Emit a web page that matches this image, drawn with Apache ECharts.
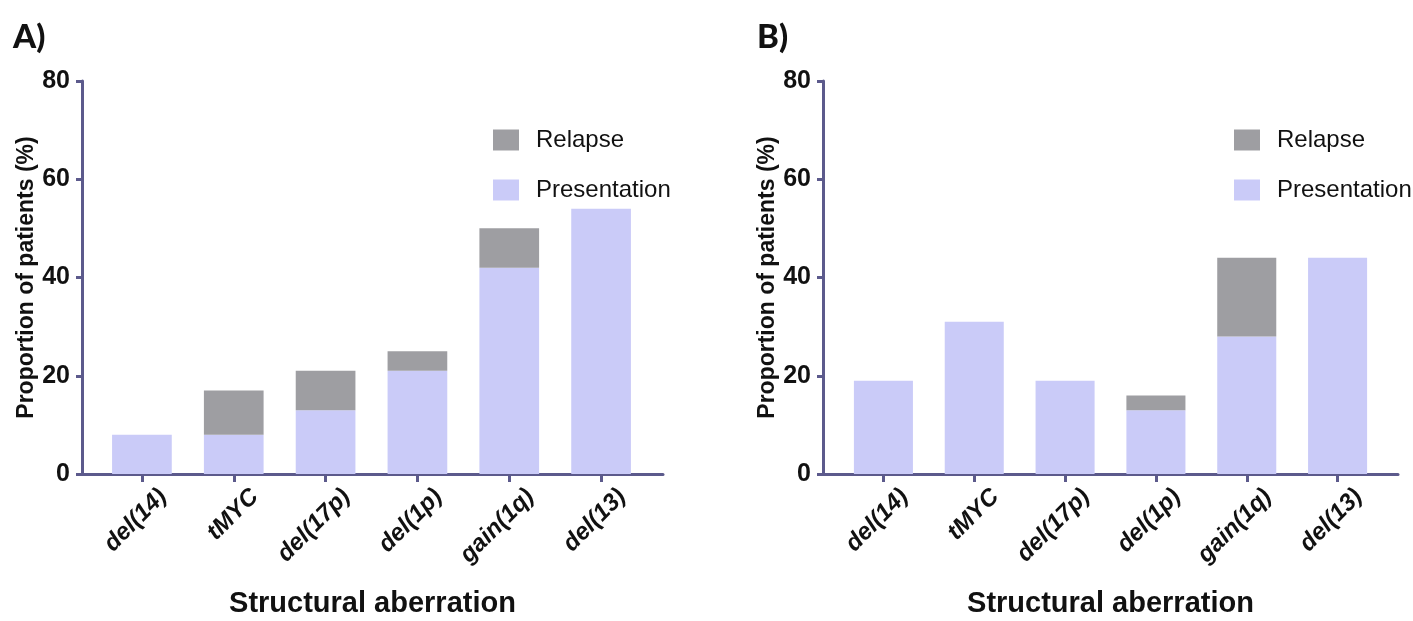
<!DOCTYPE html>
<html>
<head>
<meta charset="utf-8">
<script src="https://cdn.jsdelivr.net/npm/echarts@6/dist/echarts.min.js"></script>
<style>
html,body{margin:0;padding:0;background:#fff;}
#chart{width:1413px;height:621px;}
</style>
</head>
<body>
<div id="chart"></div>
<script>
// ---- data ----
const categories = ['del(14)', 'tMYC', 'del(17p)', 'del(1p)', 'gain(1q)', 'del(13)'];
const presentationA = [8, 8, 13, 21, 42, 54];
const relapseA      = [0, 9, 8, 4, 8, 0];
const presentationB = [19, 31, 19, 13, 28, 44];
const relapseB      = [0, 0, 0, 3, 16, 0];
const yTicks = [0, 20, 40, 60, 80];
const panelTitles = ['A)', 'B)'];
const yTitle = 'Proportion of patients (%)';
const xTitle = 'Structural aberration';

// ---- style ----
const AXIS = '#5c5a8c';
const PRES = '#cacbf8';
const REL = '#9e9ea2';
const FONT = '"Liberation Sans", Arial, sans-serif';

const chart = echarts.init(document.getElementById('chart'), null, {renderer: 'canvas'});

const gTop = 81, gHeight = 393;
const labelShift = 21;
const panels = [
  {frameLeft: 82, frameWidth: 581, barLeft: 96, barWidth: 551, pres: presentationA, rel: relapseA, stack: 'A'},
  {frameLeft: 823, frameWidth: 575, barLeft: 838, barWidth: 545, pres: presentationB, rel: relapseB, stack: 'B'}
];

const grid = [], xAxis = [], yAxis = [], series = [], legend = [], title = [];
function mkGrid(left, width) {
  return {left: left, width: width, top: gTop, height: gHeight, containLabel: false, outerBoundsMode: 'none'};
}
panels.forEach((p, i) => {
  grid.push(mkGrid(p.frameLeft, p.frameWidth));
  const fi = grid.length - 1;
  grid.push(mkGrid(p.barLeft, p.barWidth));
  const bi = grid.length - 1;
  // label-only grid, shifted so rotated labels sit like the reference
  grid.push(mkGrid(p.barLeft + labelShift, p.barWidth));
  const li = grid.length - 1;

  // frame axes
  xAxis.push({
    type: 'value', gridIndex: fi, min: 0, max: 1,
    axisLine: {show: true, onZero: false, lineStyle: {color: AXIS, width: 3}},
    axisTick: {show: false}, axisLabel: {show: false}, splitLine: {show: false},
    name: xTitle, nameLocation: 'middle', nameGap: 115,
    nameTextStyle: {fontFamily: FONT, fontWeight: 'bold', fontSize: 29, color: '#111'}
  });
  yAxis.push({
    type: 'value', gridIndex: fi, min: yTicks[0], max: yTicks[yTicks.length - 1], interval: 20,
    axisLine: {show: true, onZero: false, lineStyle: {color: AXIS, width: 3}},
    axisTick: {show: true, length: 6, lineStyle: {color: AXIS, width: 3}},
    axisLabel: {fontFamily: FONT, fontWeight: 'bold', fontSize: 25, color: '#111', margin: 12},
    splitLine: {show: false},
    name: yTitle, nameLocation: 'middle', nameGap: 42,
    nameTextStyle: {fontFamily: FONT, fontWeight: 'bold', fontSize: 23, color: '#111'}
  });
  // bar axes
  xAxis.push({
    type: 'category', gridIndex: bi, data: categories,
    axisLine: {show: false},
    axisTick: {show: true, alignWithLabel: true, length: 8, lineStyle: {color: AXIS, width: 3}},
    axisLabel: {show: false}
  });
  yAxis.push({type: 'value', gridIndex: bi, min: 0, max: 80, interval: 20, show: false});
  const xi = xAxis.length - 1, yi = yAxis.length - 1;
  // label axes
  xAxis.push({
    type: 'category', gridIndex: li, data: categories,
    axisLine: {show: false}, axisTick: {show: false},
    axisLabel: {rotate: 45, fontFamily: FONT, fontWeight: 'bold', fontStyle: 'italic', fontSize: 24, color: '#111', margin: 19, interval: 0}
  });
  yAxis.push({type: 'value', gridIndex: li, min: 0, max: 80, show: false});

  series.push({
    name: 'Presentation', type: 'bar', stack: p.stack, xAxisIndex: xi, yAxisIndex: yi,
    data: p.pres, barWidth: '65%', itemStyle: {color: PRES}
  });
  series.push({
    name: 'Relapse', type: 'bar', stack: p.stack, xAxisIndex: xi, yAxisIndex: yi,
    data: p.rel, barWidth: '65%', itemStyle: {color: REL}
  });
  legend.push({
    orient: 'vertical', left: p.frameLeft + 411, top: 128, padding: 0,
    data: ['Relapse', 'Presentation'], icon: 'rect',
    itemWidth: 26, itemHeight: 21, itemGap: 26,
    textStyle: {fontFamily: FONT, fontSize: 24, color: '#111', padding: [0, 0, 0, 12]},
    selectedMode: false
  });
  title.push({
    text: panelTitles[i], left: i === 0 ? 8 : 752, top: 16,
    textStyle: {fontFamily: 'Lato, "Open Sans", sans-serif', fontWeight: 900, fontSize: 33, color: '#111'}
  });
});

chart.setOption({
  animation: false,
  backgroundColor: '#fff',
  title: title,
  grid: grid,
  xAxis: xAxis,
  yAxis: yAxis,
  legend: legend,
  series: series
});
</script>
</body>
</html>
